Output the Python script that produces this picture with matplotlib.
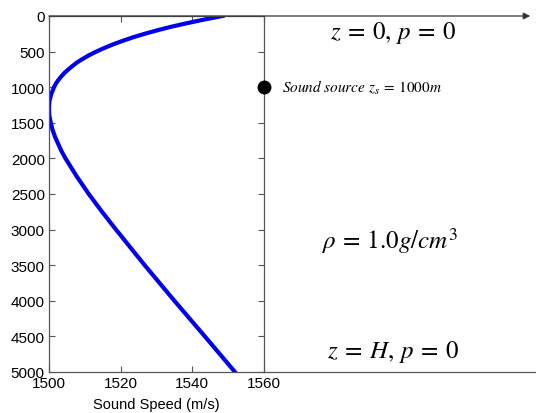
import matplotlib.pyplot as plt

plt.rcParams['font.family'] = ['Liberation Sans', 'DejaVu Sans']
plt.rcParams['mathtext.fontset'] = 'stix'

# sound speed profile (depth m, speed m/s)
depth = [0, 50, 100, 150, 200, 250, 300, 350, 400, 450, 500, 550, 600, 650,
         700, 750, 800, 850, 900, 950, 1000, 1100, 1200, 1300, 1400, 1500,
         1600, 1700, 1800, 1900, 2000, 2250, 2500, 2750, 3000, 3250, 3500,
         4000, 4500, 5000]
speed = [1548.4, 1543.3, 1538.6, 1534.2, 1530.3, 1526.7, 1523.4, 1520.5,
         1517.8, 1515.4, 1513.2, 1511.2, 1509.5, 1507.9, 1506.6, 1505.4,
         1504.3, 1503.4, 1502.6, 1501.9, 1501.4, 1500.6, 1500.1, 1500.0,
         1500.1, 1500.5, 1501.0, 1501.7, 1502.6, 1503.5, 1504.6, 1507.7,
         1511.1, 1514.8, 1518.7, 1522.7, 1526.7, 1535.0, 1543.5, 1551.9]

source_speed = 1560
source_depth = 1000

x_ticks = [1500, 1520, 1540, 1560]
y_ticks = list(range(0, 5001, 500))

fig = plt.figure(figsize=(5.36, 4.14), dpi=100)
ax = fig.add_axes([49 / 536, 41 / 414, 215 / 536, 356 / 414])

ax.plot(speed, depth, color='#0000ee', lw=3, solid_joinstyle='round')
ax.plot(source_speed, source_depth, 'o', color='black', ms=9, clip_on=False, zorder=5)

ax.set_xlim(1500, 1560)
ax.set_ylim(5000, 0)
ax.set_xticks(x_ticks)
ax.set_yticks(y_ticks)
ax.set_xlabel('Sound Speed (m/s)', fontsize=10.5, labelpad=5)
ax.tick_params(direction='in', length=4, width=0.8, color='#555555',
               top=True, right=True, labelsize=11, pad=3)
ax.tick_params(axis='x', pad=3)
for s in ax.spines.values():
    s.set_color('#555555')
    s.set_linewidth(0.9)

# extended boundaries to the right
ax.annotate('', xy=(1634.3, 0), xytext=(1500, 0), xycoords='data',
            arrowprops=dict(arrowstyle='-|>', color='#333333', lw=0.9,
                            mutation_scale=10, shrinkA=0, shrinkB=0),
            annotation_clip=False)
ax.plot([1560, 1636], [5000, 5000], color='#555555', lw=0.9, clip_on=False)

ax.text(1596.1, 230, r'$z\:=\:0,\,p\:=\:0$', fontsize=18, ha='center', va='center')
ax.text(1565, 1000, r'$Sound\ source\ z_s\:=\:1000m$', fontsize=11,
        ha='left', va='center')
ax.text(1594.9, 3150, r'$\rho\:=\:1.0g/cm^3$', fontsize=18, ha='center', va='center')
ax.text(1596.1, 4700, r'$z\:=\:H,\,p\:=\:0$', fontsize=18, ha='center', va='center')

fig.savefig('out.png', dpi=100)
